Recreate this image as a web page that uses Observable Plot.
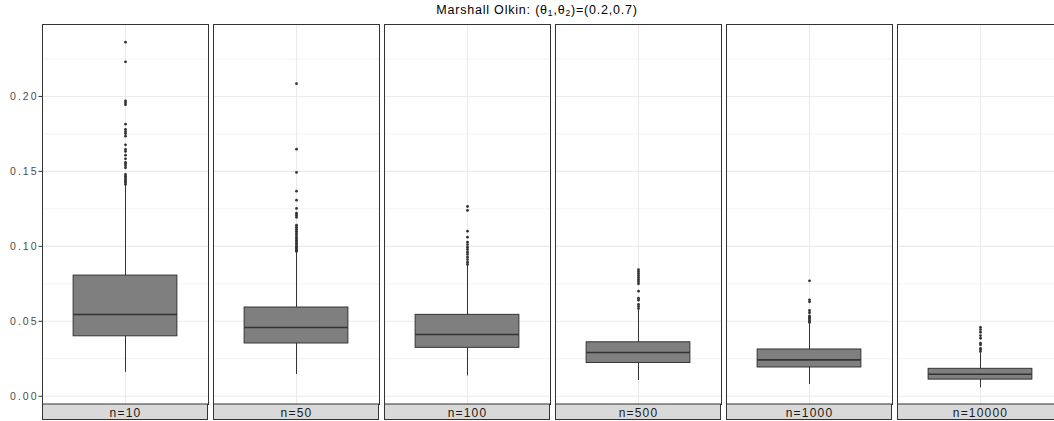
<!DOCTYPE html>
<html>
<head>
<meta charset="utf-8">
<script src="https://cdn.jsdelivr.net/npm/d3@7"></script>
<script src="https://cdn.jsdelivr.net/npm/@observablehq/plot@0.6"></script>
<style>
  html, body { margin: 0; padding: 0; background: #fff; overflow: hidden; }
  #wrap { width: 1054px; height: 421px; overflow: hidden; position: relative; }
  #title { height: 20px; line-height: 21px; font-family: "Liberation Sans", Arial, sans-serif; font-size: 12.5px; letter-spacing: 0.8px; color: #000;
           text-align: center; width: 1022px; padding-left: 26px; white-space: nowrap; }
  #title sub { font-size: 8.5px; vertical-align: -2px; line-height: 0; }
  #chart svg { display: block; max-width: none !important; }
</style>
</head>
<body>
<div id="wrap">
  <div id="title">Marshall Olkin: (θ<sub>1</sub>,θ<sub>2</sub>)=(0.2,0.7)</div>
  <div id="chart"></div>
</div>
<script>
const categories = ["n=10", "n=50", "n=100", "n=500", "n=1000", "n=10000"];
const q1 = [0.0400, 0.0352, 0.0323, 0.0222, 0.0192, 0.0111];
const medians = [0.0545, 0.0459, 0.0412, 0.0292, 0.0243, 0.0147];
const q3 = [0.0805, 0.0592, 0.0543, 0.0360, 0.0312, 0.0183];
const whiskerLow = [0.0160, 0.0145, 0.0136, 0.0105, 0.0078, 0.0056];
const whiskerHigh = [0.1405, 0.0962, 0.0868, 0.0572, 0.0478, 0.0287];
const outliersN10 = [0.2362, 0.2231, 0.1971, 0.1958, 0.1945, 0.1815, 0.1780, 0.1766, 0.1753, 0.1735, 0.1677, 0.1646, 0.1633,
  0.1608, 0.1584, 0.1560, 0.1551, 0.1538, 0.1524, 0.1480, 0.1468, 0.1457, 0.1446, 0.1435, 0.1424, 0.1413];
const outliersN50 = [0.2085, 0.1648, 0.1493, 0.1368, 0.1308, 0.1253, 0.1221, 0.1208, 0.1194, 0.1141, 0.1128, 0.1114, 0.1101,
  0.1088, 0.1075, 0.1063, 0.1052, 0.1041, 0.1030, 0.1020, 0.1010, 0.1000, 0.0993, 0.0985, 0.0977, 0.0970, 0.0966];
const outliersN100 = [0.1266, 0.1240, 0.1101, 0.1061, 0.1028, 0.1012, 0.0994, 0.0979, 0.0961, 0.0946, 0.0928, 0.0912, 0.0894, 0.0879];
const outliersN500 = [0.0844, 0.0830, 0.0817, 0.0804, 0.0790, 0.0777, 0.0764, 0.0750, 0.0701, 0.0654, 0.0641, 0.0612, 0.0599, 0.0585];
const outliersN1000 = [0.0770, 0.0643, 0.0630, 0.0572, 0.0557, 0.0536, 0.0527, 0.0518, 0.0509, 0.0500, 0.0492];
const outliersN10000 = [0.0460, 0.0445, 0.0427, 0.0405, 0.0387, 0.0354, 0.0343, 0.0320, 0.0310, 0.0298];
const yTicks = [0.00, 0.05, 0.10, 0.15, 0.20];
const yMinorTicks = [0.025, 0.075, 0.125, 0.175, 0.225];

const outlierLists = [outliersN10, outliersN50, outliersN100, outliersN500, outliersN1000, outliersN10000];
const boxes = categories.map((n, i) => ({n, q1: q1[i], med: medians[i], q3: q3[i], lo: whiskerLow[i], hi: whiskerHigh[i]}));
const outlierRows = categories.flatMap((n, i) => outlierLists[i].map(v => ({n, v})));

const W = 1064, H = 401, MT = 4, MB = 17, ML = 42, MR = 1;
const center = () => "box";

const chart = Plot.plot({
  width: W, height: H,
  marginTop: MT, marginBottom: MB, marginLeft: ML, marginRight: MR,
  style: {fontFamily: "'Liberation Sans', Arial, sans-serif", fontSize: "11px", background: "#fff", maxWidth: "none"},
  fx: {domain: categories, paddingInner: 5 / 171.2, paddingOuter: 0, round: false, axis: null, label: null},
  x: {domain: ["box"], padding: 0.2308, round: false, axis: null},
  y: {domain: [-0.0055, 0.248], axis: null},
  marks: [
    Plot.ruleY(yMinorTicks, {stroke: "#ebebeb", strokeWidth: 0.6}),
    Plot.ruleY(yTicks, {stroke: "#ebebeb", strokeWidth: 1.1}),
    Plot.ruleX(["box"], {stroke: "#ebebeb", strokeWidth: 1.1}),
    Plot.ruleX(boxes, {fx: "n", x: center, y1: "lo", y2: "hi", stroke: "#333", strokeWidth: 1}),
    Plot.barY(boxes, {fx: "n", x: center, y1: "q1", y2: "q3", fill: "#7f7f7f", stroke: "#333", strokeWidth: 1}),
    Plot.tickY(boxes, {fx: "n", x: center, y: "med", stroke: "#333", strokeWidth: 1.6}),
    Plot.dot(outlierRows, {fx: "n", x: center, y: "v", r: 1.4, fill: "#333", stroke: null}),
    Plot.frame({stroke: "#333", strokeWidth: 1}),
    Plot.axisY(yTicks, {tickFormat: d3.format(".2f"), tickSize: 3.5, tickPadding: 0.5, stroke: "#333", fill: "#4d4d4d", label: null, fontSize: 10.5}),
    Plot.axisFx({anchor: "bottom", tickSize: 0, tickPadding: 3.5, label: null, fill: "#1a1a1a", fontSize: 12})
  ]
});

// grey facet strips beneath the facet labels, positioned with the fx scale
const fx = chart.scale("fx");
const svg = d3.select(chart);
const strips = svg.insert("g", "g[aria-label^='fx-axis']");
categories.forEach(c => {
  strips.append("rect")
    .attr("x", fx.apply(c) + 0.5)
    .attr("y", H - MB)
    .attr("width", fx.bandwidth - 1)
    .attr("height", MB - 1.5)
    .attr("fill", "#d9d9d9")
    .attr("stroke", "#333")
    .attr("stroke-width", 1);
});
svg.selectAll("g[aria-label^='fx-axis']").raise();
// wider lettering, as in the reference
svg.selectAll("g[aria-label^='y-axis tick label'] text").style("letter-spacing", "2px");
svg.selectAll("g[aria-label^='fx-axis'] text").style("letter-spacing", "1.2px");

document.getElementById("chart").appendChild(chart);
</script>
</body>
</html>
